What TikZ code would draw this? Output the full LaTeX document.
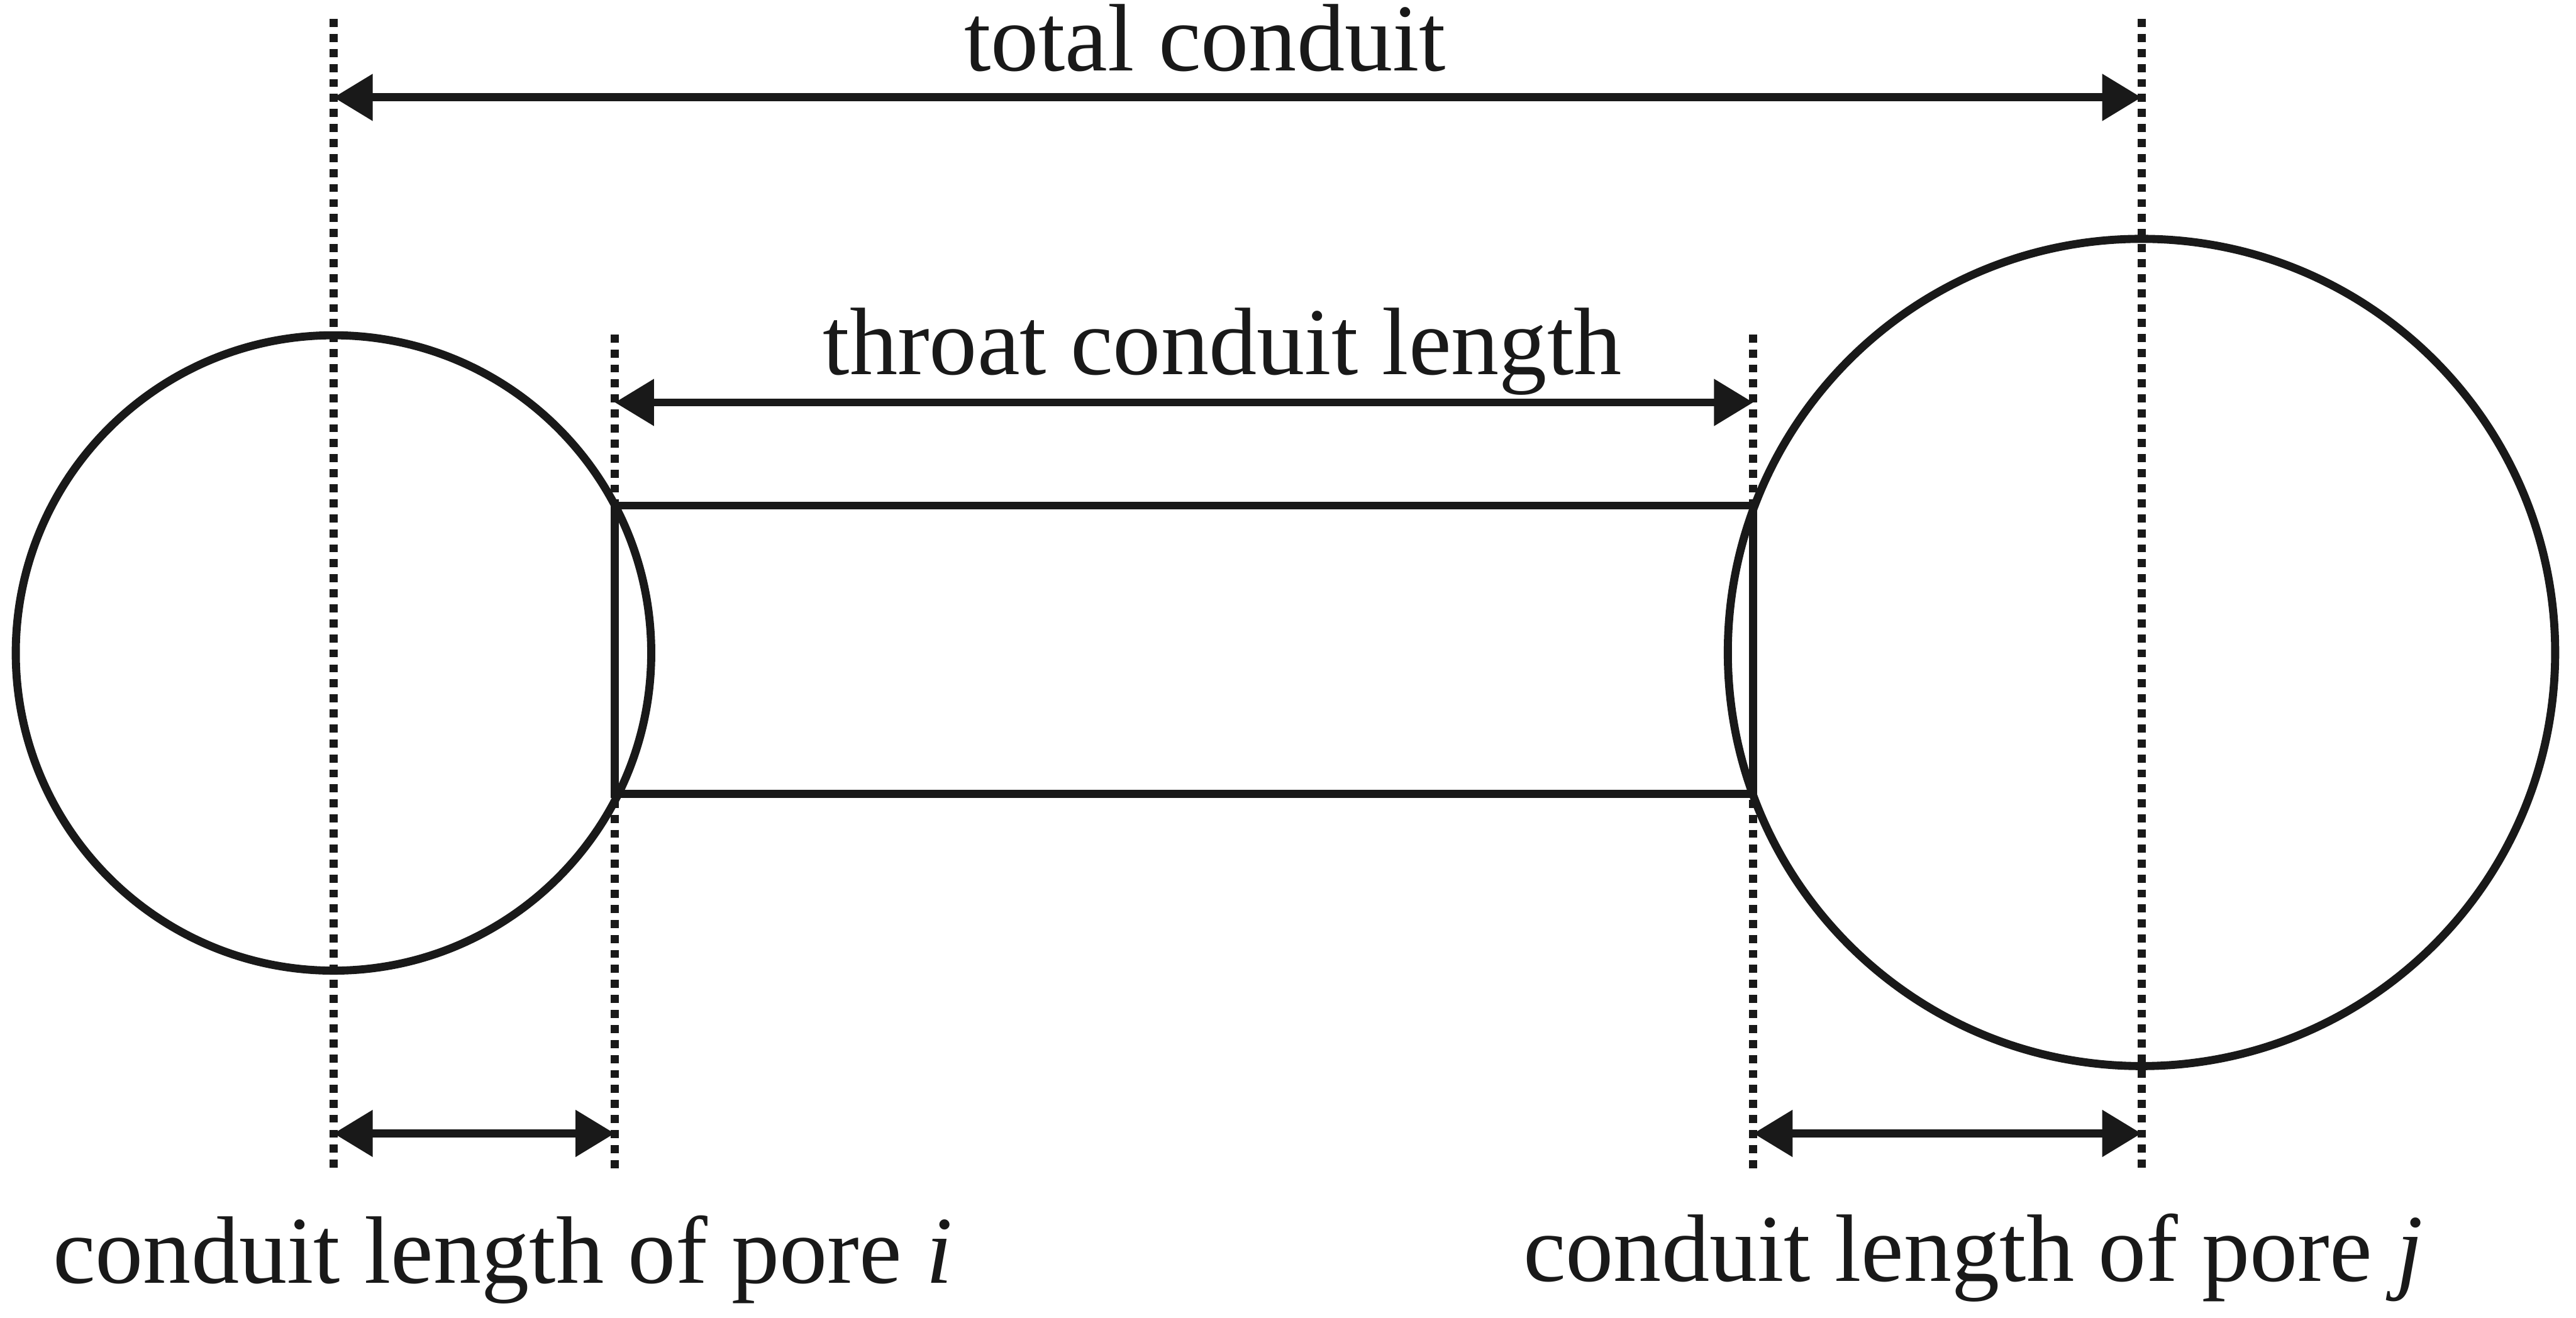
\documentclass[tikz,border=0pt]{standalone}
\usepackage{fontspec}
\setmainfont{Liberation Serif}
\usetikzlibrary{arrows.meta}

\begin{document}
\begin{tikzpicture}[
  >={Triangle[length=6.8pt,width=7.8pt]},
  pore/.style={draw=black!90,circle,line width=1.4pt,inner sep=0pt},
  throat/.style={draw=black!90,rectangle,line width=1.4pt,inner sep=0pt},
  guide/.style={draw=black!90,line width=1.4pt,dash pattern=on 1.4pt off 1.2pt},
  dimline/.style={<->,draw=black!90,line width=1.4pt},
  dimtext/.style={font=\fontsize{16.6}{19}\selectfont,inner sep=0pt,anchor=base,
    text=black!90}
]
\useasboundingbox (0,0) rectangle (15.68,-8.02);
\node[pore,minimum size=3.868cm] (porei) at (2.03,-3.975) {};
\node[pore,minimum size=5.036cm] (porej) at (13.035,-3.972) {};
\node[throat,minimum width=6.93cm,minimum height=1.755cm] (thr) at (7.207,-3.955) {};
\coordinate (gi top) at (2.03,-0.115);
\coordinate (gi bot) at (2.03,-7.11);
\coordinate (ga top) at (3.742,-2.036);
\coordinate (ga bot) at (3.742,-7.15);
\coordinate (gb top) at (10.672,-2.036);
\coordinate (gb bot) at (10.672,-7.15);
\coordinate (gj top) at (13.035,-0.115);
\coordinate (gj bot) at (13.035,-7.11);
\draw[guide] (gi top)--(gi bot);
\draw[guide] (ga top)--(ga bot);
\draw[guide] (gb top)--(gb bot);
\draw[guide] (gj top)--(gj bot);
\draw[dimline] (gi top|-0,-0.593)--(gj top|-0,-0.593);
\draw[dimline] (ga top|-0,-2.45)--(gb top|-0,-2.45);
\draw[dimline] (gi bot|-0,-6.90)--(ga bot|-0,-6.90);
\draw[dimline] (gb bot|-0,-6.90)--(gj bot|-0,-6.90);
\node[dimtext] (total) at (7.335,-0.43) {total conduit};
\node[dimtext] (tlen) at (7.44,-2.28) {throat conduit length};
\node[dimtext] (leni) at (3.06,-7.81) {conduit length of pore \textit{i}};
\node[dimtext] (lenj) at (12.01,-7.80) {conduit length of pore \textit{j}};
\end{tikzpicture}
\end{document}
